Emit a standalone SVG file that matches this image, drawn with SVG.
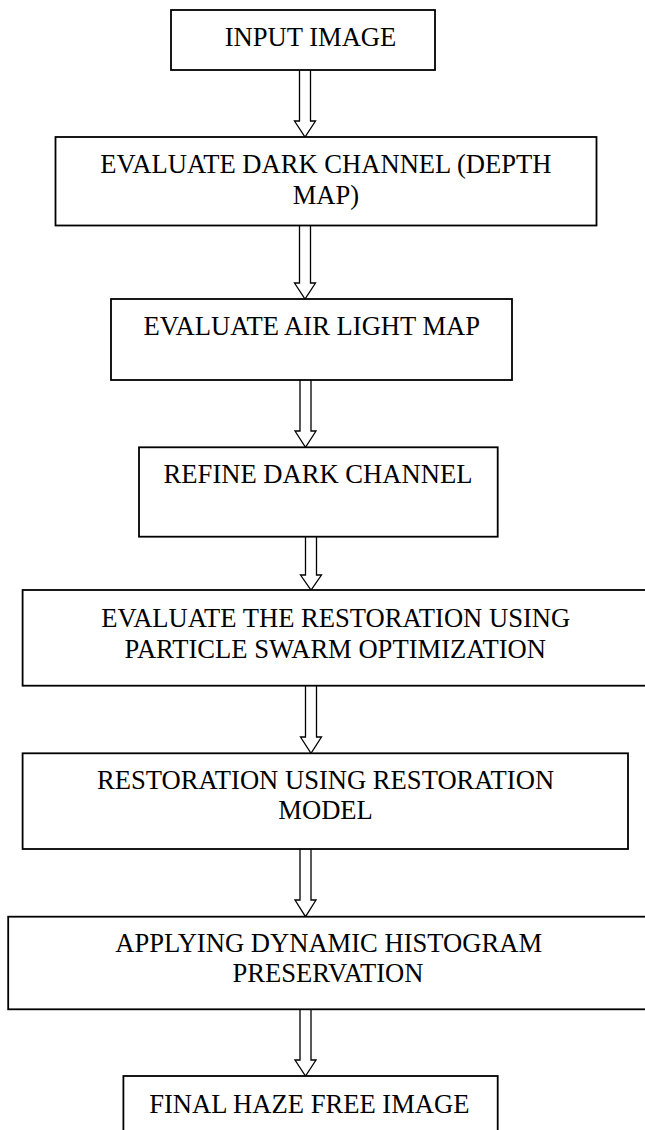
<svg xmlns="http://www.w3.org/2000/svg" width="645" height="1130" viewBox="0 0 645 1130">
<style>
.box{fill:#fff;stroke:#000;stroke-width:1.8}
.arr{fill:#fff;stroke:#000;stroke-width:1.3;stroke-linejoin:miter}
text{font-family:"Liberation Serif","Times New Roman",serif;font-size:26.6px;fill:#000;text-anchor:middle}
</style>
<rect width="645" height="1130" fill="#fff"/>
<g id="connectors">
<path class="arr" d="M299.5,70 V121 H294.5 L305,137 L315.5,121 H310.5 V70"/>
<path class="arr" d="M299.5,225.5 V283 H294.5 L305,299 L315.5,283 H310.5 V225.5"/>
<path class="arr" d="M300,380 V431 H295 L305.5,447.3 L316,431 H311 V380"/>
<path class="arr" d="M305.5,536.7 V575 H300.5 L311,590 L321.5,575 H316.5 V536.7"/>
<path class="arr" d="M305.5,685.7 V737 H300.5 L311,753.3 L321.5,737 H316.5 V685.7"/>
<path class="arr" d="M300,849 V900 H295 L305.5,916.7 L316,900 H311 V849"/>
<path class="arr" d="M300,1009.3 V1060 H295 L305.5,1076 L316,1060 H311 V1009.3"/>
</g>
<g id="n1">
<rect class="box" x="171" y="10" width="264" height="60"/>
<text x="310.5" y="45.5">INPUT IMAGE</text>
</g>
<g id="n2">
<rect class="box" x="55.5" y="137" width="541" height="88.5"/>
<text x="325.9" y="173.3">EVALUATE DARK CHANNEL (DEPTH</text>
<text x="325.9" y="204">MAP)</text>
</g>
<g id="n3">
<rect class="box" x="111" y="299" width="401" height="81"/>
<text x="311.8" y="335">EVALUATE AIR LIGHT MAP</text>
</g>
<g id="n4">
<rect class="box" x="139" y="447.3" width="358.7" height="89.4"/>
<text x="318" y="483">REFINE DARK CHANNEL</text>
</g>
<g id="n5">
<rect class="box" x="22.6" y="590" width="626" height="95.7"/>
<text x="335.7" y="627">EVALUATE THE RESTORATION USING</text>
<text x="335.3" y="658">PARTICLE SWARM OPTIMIZATION</text>
</g>
<g id="n6">
<rect class="box" x="22.6" y="753.3" width="605.4" height="95.7"/>
<text x="325.6" y="789">RESTORATION USING RESTORATION</text>
<text x="325.6" y="819.3">MODEL</text>
</g>
<g id="n7">
<rect class="box" x="8.2" y="916.7" width="641" height="92.6"/>
<text x="328.7" y="951.7">APPLYING DYNAMIC HISTOGRAM</text>
<text x="328" y="982.3">PRESERVATION</text>
</g>
<g id="n8">
<rect class="box" x="123.4" y="1076" width="374.3" height="70"/>
<text x="309.3" y="1113">FINAL HAZE FREE IMAGE</text>
</g>
</svg>
